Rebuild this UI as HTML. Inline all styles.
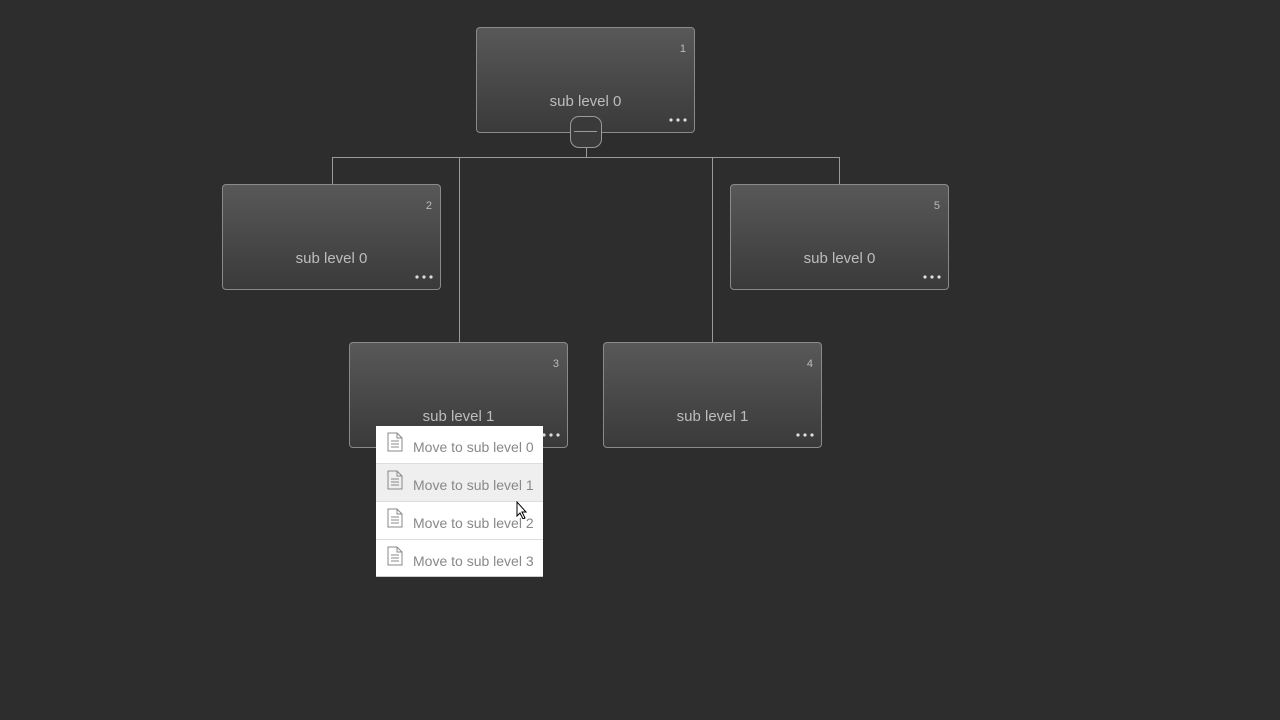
<!DOCTYPE html>
<html><head><meta charset="utf-8"><style>
body{margin:0;width:1280px;height:720px;background:#2d2d2d;position:relative;overflow:hidden;font-family:"Liberation Sans",sans-serif}
.n{position:absolute;width:217px;height:104px;border:1px solid #8a8a8a;border-radius:4px;background:linear-gradient(#585858,#3a3a3a);box-sizing:content-box}
.n .t{position:absolute;left:0;right:0;top:65px;text-align:center;color:#bdbdbd;font-size:15px}
.n .k{position:absolute;right:8px;top:15px;color:#bbb;font-size:11px}
.n svg{position:absolute;right:7px;bottom:10px}
.l{position:absolute;background:#9a9a9a}
.m{position:absolute;left:376px;top:426px;width:167px;height:150px;background:#fff;border-bottom:1px solid #ccc}
.i{height:37px;border-bottom:1px solid #ddd;position:relative;color:#888;font-size:14px}
.i span{position:absolute;left:37px;top:13px}
.i svg{position:absolute;left:11px;top:6px}
</style></head><body>
<div class="l" style="left:332px;top:157px;width:508px;height:1px"></div>
<div class="l" style="left:332px;top:157px;width:1px;height:27px"></div>
<div class="l" style="left:839px;top:157px;width:1px;height:27px"></div>
<div class="l" style="left:459px;top:157px;width:1px;height:185px"></div>
<div class="l" style="left:712px;top:157px;width:1px;height:185px"></div>
<div class="l" style="left:586px;top:146px;width:1px;height:12px"></div>
<div class="n" style="left:476px;top:27px"><div class="k">1</div><div class="t">sub level 0</div><svg width="18" height="4"><circle cx="2" cy="2" r="1.6" fill="#ddd"/><circle cx="9" cy="2" r="1.6" fill="#ddd"/><circle cx="16" cy="2" r="1.6" fill="#ddd"/></svg></div>
<div class="n" style="left:222px;top:184px"><div class="k">2</div><div class="t">sub level 0</div><svg width="18" height="4"><circle cx="2" cy="2" r="1.6" fill="#ddd"/><circle cx="9" cy="2" r="1.6" fill="#ddd"/><circle cx="16" cy="2" r="1.6" fill="#ddd"/></svg></div>
<div class="n" style="left:730px;top:184px"><div class="k">5</div><div class="t">sub level 0</div><svg width="18" height="4"><circle cx="2" cy="2" r="1.6" fill="#ddd"/><circle cx="9" cy="2" r="1.6" fill="#ddd"/><circle cx="16" cy="2" r="1.6" fill="#ddd"/></svg></div>
<div class="n" style="left:349px;top:342px"><div class="k">3</div><div class="t">sub level 1</div><svg width="18" height="4"><circle cx="2" cy="2" r="1.6" fill="#ddd"/><circle cx="9" cy="2" r="1.6" fill="#ddd"/><circle cx="16" cy="2" r="1.6" fill="#ddd"/></svg></div>
<div class="n" style="left:603px;top:342px"><div class="k">4</div><div class="t">sub level 1</div><svg width="18" height="4"><circle cx="2" cy="2" r="1.6" fill="#ddd"/><circle cx="9" cy="2" r="1.6" fill="#ddd"/><circle cx="16" cy="2" r="1.6" fill="#ddd"/></svg></div>
<div style="position:absolute;left:570px;top:116px;width:30px;height:30px;border:1px solid #9a9a9a;border-radius:9px;background:#3a3a3a"></div>
<div class="l" style="left:574px;top:131px;width:23px;height:1px"></div>
<div class="m">
<div class="i"><svg width="16" height="20"><path d="M1 1h9l5 5v13H1z M10 1v5h5" fill="none" stroke="#888"/><path d="M4 9h8M4 12h8M4 15h8" stroke="#888"/></svg><span>Move to sub level 0</span></div>
<div class="i" style="background:#efefef"><svg width="16" height="20"><path d="M1 1h9l5 5v13H1z M10 1v5h5" fill="none" stroke="#888"/><path d="M4 9h8M4 12h8M4 15h8" stroke="#888"/></svg><span>Move to sub level 1</span></div>
<div class="i"><svg width="16" height="20"><path d="M1 1h9l5 5v13H1z M10 1v5h5" fill="none" stroke="#888"/><path d="M4 9h8M4 12h8M4 15h8" stroke="#888"/></svg><span>Move to sub level 2</span></div>
<div class="i" style="border:none"><svg width="16" height="20"><path d="M1 1h9l5 5v13H1z M10 1v5h5" fill="none" stroke="#888"/><path d="M4 9h8M4 12h8M4 15h8" stroke="#888"/></svg><span>Move to sub level 3</span></div>
</div>
<svg style="position:absolute;left:516px;top:501px" width="12" height="18"><path d="M1 1v14l3-3 3 6 2-1-3-6h4z" fill="#fff" stroke="#000"/></svg>
</body></html>
